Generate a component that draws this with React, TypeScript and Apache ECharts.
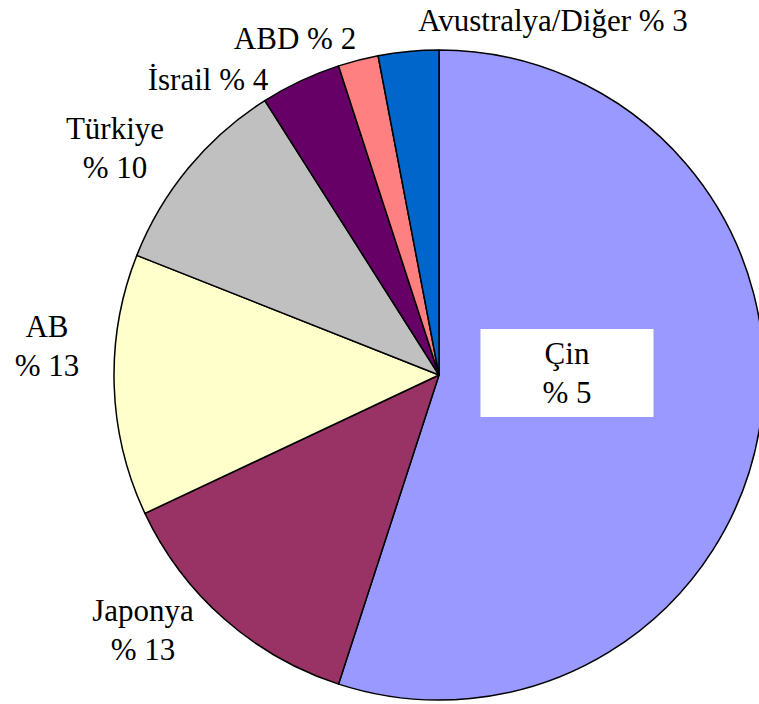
import React, { useEffect, useRef } from "react";
import * as echarts from "echarts";

const categories = ["Çin", "Japonya", "AB", "Türkiye", "İsrail", "ABD", "Avustralya/Diğer"];
const values = [55, 13, 13, 10, 4, 2, 3];
const labelTexts = ["Çin\n% 5", "Japonya\n% 13", "AB\n% 13", "Türkiye\n% 10", "İsrail % 4", "ABD % 2", "Avustralya/Diğer % 3"];
const colors = ["#9999FF", "#993366", "#FFFFCC", "#C0C0C0", "#660066", "#FF8080", "#0066CC"];
const labelPositions: [number, number][] = [
  [567, 373],
  [143, 630],
  [47, 346],
  [115, 148],
  [208, 79],
  [295, 38],
  [553, 20],
];

export default function App() {
  const ref = useRef<HTMLDivElement>(null);
  useEffect(() => {
    if (!ref.current) return;
    const chart = echarts.init(ref.current, undefined, { renderer: "svg" });
    chart.setOption({
      animation: false,
      backgroundColor: "#ffffff",
      series: [
        {
          type: "pie",
          center: [439, 375],
          radius: 325,
          startAngle: 90,
          clockwise: true,
          avoidLabelOverlap: false,
          silent: true,
          itemStyle: { borderColor: "#000", borderWidth: 1.5 },
          labelLine: { show: false },
          label: {
            show: true,
            position: "outside",
            fontFamily: "Liberation Serif",
            fontSize: 31,
            lineHeight: 39,
            color: "#000",
            formatter: (p: any) => labelTexts[p.dataIndex],
          },
          labelLayout: (p: any) => {
            const pos = labelPositions[p.dataIndex];
            return { x: pos[0], y: pos[1], align: "center", verticalAlign: "middle" };
          },
          data: categories.map((name, i) => ({
            name,
            value: values[i],
            itemStyle: { color: colors[i] },
            label:
              i === 0
                ? { backgroundColor: "#ffffff", padding: [5, 62], align: "center" }
                : { align: "center" },
          })),
        },
      ],
    });
    return () => chart.dispose();
  }, []);
  return (
    <div
      ref={ref}
      style={{ position: "fixed", left: 0, top: 0, width: 759, height: 704 }}
    />
  );
}
